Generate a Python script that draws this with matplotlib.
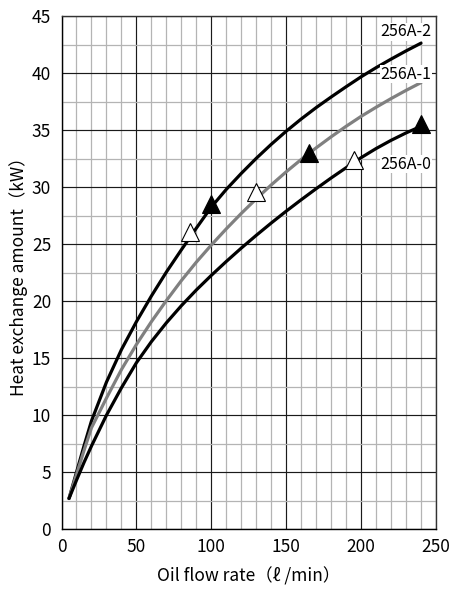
import matplotlib
matplotlib.use("Agg")
import matplotlib.pyplot as plt
from matplotlib.ticker import MultipleLocator

plt.rcParams['font.family'] = ['Noto Sans CJK JP', 'DejaVu Sans']

# ---- data ----
flow = [5, 10, 15, 20, 30, 40, 50, 60, 70, 80, 90, 100, 110, 120, 130,
        140, 150, 160, 170, 180, 190, 200, 210, 220, 230, 240]
heat_2 = [2.7, 5.0, 7.3, 9.5, 12.9, 15.75, 18.2, 20.45, 22.55, 24.5, 26.4,
          28.25, 29.8, 31.2, 32.52, 33.75, 34.9, 35.97, 36.97, 37.9, 38.8,
          39.67, 40.47, 41.22, 41.94, 42.62]
heat_1 = [2.7, 4.8, 6.9, 8.9, 11.5, 14.0, 16.2, 18.2, 20.05, 21.8, 23.42,
          24.92, 26.34, 27.69, 28.97, 30.19, 31.34, 32.42, 33.44, 34.41,
          35.33, 36.2, 37.0, 37.76, 38.48, 39.16]
heat_0 = [2.7, 4.3, 5.85, 7.3, 10.0, 12.4, 14.6, 16.45, 18.1, 19.6, 20.98,
          22.26, 23.48, 24.65, 25.77, 26.85, 27.89, 28.89, 29.86, 30.8, 31.7,
          32.58, 33.38, 34.1, 34.75, 35.33]

series_names = ['256A-2', '256A-1', '256A-0']
series_colors = ['#000000', '#808080', '#000000']

filled_x = [100, 165, 240]
filled_y = [28.5, 33.0, 35.5]
open_x = [86, 130, 195]
open_y = [26.1, 29.6, 32.4]

label_x = [213.0, 213.0, 213.0]
label_y = [43.6, 39.9, 32.0]

x_ticks = [0, 50, 100, 150, 200, 250]
y_ticks = [0, 5, 10, 15, 20, 25, 30, 35, 40, 45]

# ---- figure ----
fig = plt.figure(figsize=(4.49, 5.89), dpi=100)
ax = fig.add_axes([0.137, 0.1014, 0.834, 0.8714])

ax.set_xlim(0, 250)
ax.set_ylim(0, 45)
ax.set_xticks(x_ticks)
ax.set_yticks(y_ticks)
ax.xaxis.set_minor_locator(MultipleLocator(10))
ax.yaxis.set_minor_locator(MultipleLocator(2.5))
ax.grid(which='minor', color='#b4b4b4', linewidth=0.9, zorder=0)
ax.grid(which='major', color='#1a1a1a', linewidth=0.85, zorder=0.5)
ax.set_axisbelow(True)
ax.tick_params(which='both', length=0, labelsize=12.5)
ax.tick_params(axis='x', pad=6)
ax.tick_params(axis='y', pad=7.5)

for s in ['left', 'bottom']:
    ax.spines[s].set_color('#000000')
    ax.spines[s].set_linewidth(1.0)
for s in ['top', 'right']:
    ax.spines[s].set_color('#333333')
    ax.spines[s].set_linewidth(1.0)

for ys, c in zip([heat_2, heat_1, heat_0], series_colors):
    ax.plot(flow, ys, color=c, linewidth=2.3, solid_capstyle='round',
            solid_joinstyle='round', zorder=3)

ax.plot(filled_x, filled_y, linestyle='none', marker='^', markersize=12.5,
        markerfacecolor='black', markeredgecolor='black', markeredgewidth=0.8,
        zorder=4)
ax.plot(open_x, open_y, linestyle='none', marker='^', markersize=12.5,
        markerfacecolor='white', markeredgecolor='black', markeredgewidth=0.8,
        zorder=4)

for name, lx, ly in zip(series_names, label_x, label_y):
    ax.text(lx, ly, name, fontsize=11.5, ha='left', va='center', zorder=5,
            bbox=dict(facecolor='white', edgecolor='none', pad=0.5))

ax.set_xlabel('Oil flow rate（ℓ /min）', fontsize=12.5, labelpad=8)
ax.set_ylabel('Heat exchange amount（kW）', fontsize=12.5, labelpad=3)

fig.savefig('out.png', dpi=100)
